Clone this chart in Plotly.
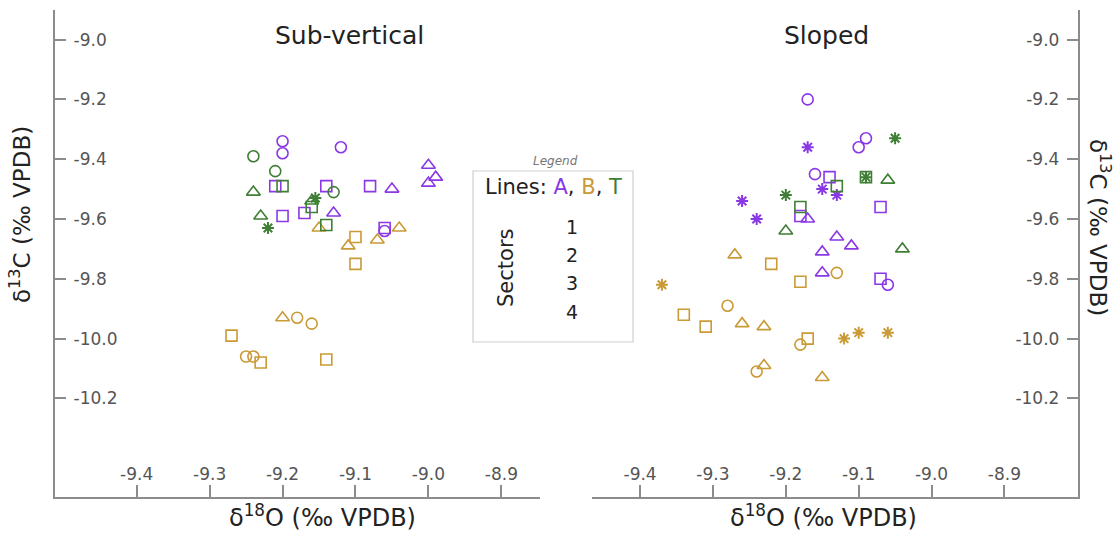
import plotly.graph_objects as go

W, H = 1120, 536

# ---------------- data ----------------
# Sub-vertical panel
sv_x = [-9.20, -9.20, -9.12, -9.06,
        -9.00, -8.99, -9.00, -9.05, -9.13,
        -9.21, -9.14, -9.08, -9.20, -9.17, -9.06,
        -9.18, -9.16, -9.25, -9.24,
        -9.20, -9.15, -9.11, -9.07, -9.04,
        -9.10, -9.10, -9.27, -9.23, -9.14,
        -9.24, -9.21, -9.13,
        -9.24, -9.23, -9.16,
        -9.20, -9.14, -9.16,
        -9.155, -9.22]
sv_y = [-9.34, -9.38, -9.36, -9.64,
        -9.42, -9.46, -9.48, -9.50, -9.58,
        -9.49, -9.49, -9.49, -9.59, -9.58, -9.63,
        -9.93, -9.95, -10.06, -10.06,
        -9.93, -9.63, -9.69, -9.67, -9.63,
        -9.66, -9.75, -9.99, -10.08, -10.07,
        -9.39, -9.44, -9.51,
        -9.51, -9.59, -9.54,
        -9.49, -9.62, -9.56,
        -9.53, -9.63]
sv_line = (['A'] * 4 + ['A'] * 5 + ['A'] * 6 +
           ['B'] * 4 + ['B'] * 5 + ['B'] * 5 +
           ['T'] * 3 + ['T'] * 3 + ['T'] * 3 + ['T'] * 2)
sv_sector = ([1] * 4 + [2] * 5 + [3] * 6 +
             [1] * 4 + [2] * 5 + [3] * 5 +
             [1] * 3 + [2] * 3 + [3] * 3 + [4] * 2)

# Sloped panel
sl_x = [-9.17, -9.09, -9.10, -9.16, -9.06,
        -9.17, -9.13, -9.11, -9.15, -9.15,
        -9.14, -9.18, -9.07, -9.07,
        -9.17, -9.15, -9.13, -9.26, -9.24,
        -9.13, -9.28, -9.18, -9.24,
        -9.27, -9.26, -9.23, -9.23, -9.15,
        -9.22, -9.18, -9.34, -9.31, -9.17,
        -9.37, -9.12, -9.10, -9.06,
        -9.06, -9.20, -9.04,
        -9.09, -9.13, -9.18,
        -9.05, -9.20, -9.09]
sl_y = [-9.20, -9.33, -9.36, -9.45, -9.82,
        -9.60, -9.66, -9.69, -9.71, -9.78,
        -9.46, -9.59, -9.56, -9.80,
        -9.36, -9.50, -9.52, -9.54, -9.60,
        -9.78, -9.89, -10.02, -10.11,
        -9.72, -9.95, -9.96, -10.09, -10.13,
        -9.75, -9.81, -9.92, -9.96, -10.00,
        -9.82, -10.00, -9.98, -9.98,
        -9.47, -9.64, -9.70,
        -9.46, -9.49, -9.56,
        -9.33, -9.52, -9.46]
sl_line = (['A'] * 5 + ['A'] * 5 + ['A'] * 4 + ['A'] * 5 +
           ['B'] * 4 + ['B'] * 5 + ['B'] * 5 + ['B'] * 4 +
           ['T'] * 3 + ['T'] * 3 + ['T'] * 3)
sl_sector = ([1] * 5 + [2] * 5 + [3] * 4 + [4] * 5 +
             [1] * 4 + [2] * 5 + [3] * 5 + [4] * 4 +
             [2] * 3 + [3] * 3 + [4] * 3)

lines = ['A', 'B', 'T']
sectors = [1, 2, 3, 4]
panel_titles = ['Sub-vertical', 'Sloped']
y_ticks = [-9.0, -9.2, -9.4, -9.6, -9.8, -10.0, -10.2]
y_ticktext = ['-9.0', '-9.2', '-9.4', '-9.6', '-9.8', '-10.0', '-10.2']
x_ticks = [-9.4, -9.3, -9.2, -9.1, -9.0, -8.9]
x_ticktext = ['-9.4', '-9.3', '-9.2', '-9.1', '-9.0', '-8.9']

# ---------------- styles ----------------
line_colors = {'A': '#8a38e6', 'B': '#c99a36', 'T': '#3f7f35'}
sector_symbols = {1: 'circle-open', 2: 'triangle-up-open', 3: 'square-open', 4: 'asterisk-open'}
sector_sizes = {1: 11, 2: 12, 3: 11, 4: 10}
FONT = 'DejaVu Sans'
AX = '#8c8c8c'
TICK = '#555555'

fig = go.Figure()

for (px, py, pl, ps, xa, ya) in [(sv_x, sv_y, sv_line, sv_sector, 'x', 'y'),
                                 (sl_x, sl_y, sl_line, sl_sector, 'x2', 'y2')]:
    for ln in lines:
        for sc in sectors:
            xs = [a for a, l, s in zip(px, pl, ps) if l == ln and s == sc]
            ys = [b for b, l, s in zip(py, pl, ps) if l == ln and s == sc]
            if not xs:
                continue
            fig.add_trace(go.Scatter(
                x=xs, y=ys, mode='markers', xaxis=xa, yaxis=ya,
                showlegend=False,
                marker=dict(symbol=sector_symbols[sc], size=sector_sizes[sc],
                            color=line_colors[ln],
                            line=dict(color=line_colors[ln], width=1.6 if sc < 4 else 2))))

def px2x(p):
    return p / W

def px2y(p):
    return 1 - p / H

ydom = [px2y(496.5), px2y(10)]
yrange = [-10.528, -8.901]

common_x = dict(showgrid=False, zeroline=False, showline=True, linecolor=AX, linewidth=2,
                ticks='inside', ticklen=12, tickwidth=1.5, tickcolor=AX,
                ticklabelposition='inside', ticklabelstandoff=2,
                tickvals=x_ticks, ticktext=x_ticktext,
                tickfont=dict(family=FONT, size=17, color=TICK))
common_y = dict(showgrid=False, zeroline=False, showline=True, linecolor=AX, linewidth=2,
                ticks='inside', ticklen=11, tickwidth=1.5, tickcolor=AX,
                ticklabelposition='inside', ticklabelstandoff=8,
                tickvals=y_ticks, ticktext=y_ticktext, range=yrange, domain=ydom,
                tickfont=dict(family=FONT, size=17, color=TICK))

fig.update_layout(
    width=W, height=H, margin=dict(l=0, r=0, t=0, b=0),
    paper_bgcolor='white', plot_bgcolor='white',
    xaxis=dict(domain=[px2x(55), px2x(540)], range=[-9.512, -8.847], anchor='y', **common_x),
    yaxis=dict(anchor='x', side='left', **common_y),
    xaxis2=dict(domain=[px2x(592), px2x(1078)], range=[-9.466, -8.799], anchor='y2', **common_x),
    yaxis2=dict(anchor='x2', side='right', **common_y),
)

def ann(text, x, y, size, color='#222222', angle=0, italic=False):
    fig.add_annotation(text=text, x=px2x(x), y=px2y(y), xref='paper', yref='paper',
                       xanchor='center', yanchor='middle', showarrow=False, textangle=angle,
                       font=dict(family=FONT, size=size, color=color,
                                 style='italic' if italic else 'normal'))

# panel titles
ann(panel_titles[0], 349, 35, 25)
ann(panel_titles[1], 826, 35, 25)
# axis titles
xt = 'δ<sup>18</sup>O (‰ VPDB)'
yt = 'δ<sup>13</sup>C (‰ VPDB)'
ann(xt, 322, 516, 24)
ann(xt, 823, 516, 24)
ann(yt, 20, 215, 23, angle=-90)
ann(yt, 1100, 227, 23, angle=90)

# legend box
fig.add_shape(type='rect', xref='paper', yref='paper',
              x0=px2x(473), x1=px2x(633), y0=px2y(342), y1=px2y(171),
              line=dict(color='#cfcfcf', width=1.2), fillcolor='rgba(0,0,0,0)')
ann('Legend', 555, 161, 12, color='#777777', italic=True)
lines_txt = 'Lines: ' + ', '.join(
    "<span style='color:%s'>%s</span>" % (line_colors[l], l) for l in lines)
ann(lines_txt, 553, 187, 21)
ann('Sectors', 506, 268, 21, angle=-90)
for s, yy in zip(sectors, [227, 255, 283, 312]):
    ann(str(s), 572, yy, 19)

fig.write_html('out.html')
